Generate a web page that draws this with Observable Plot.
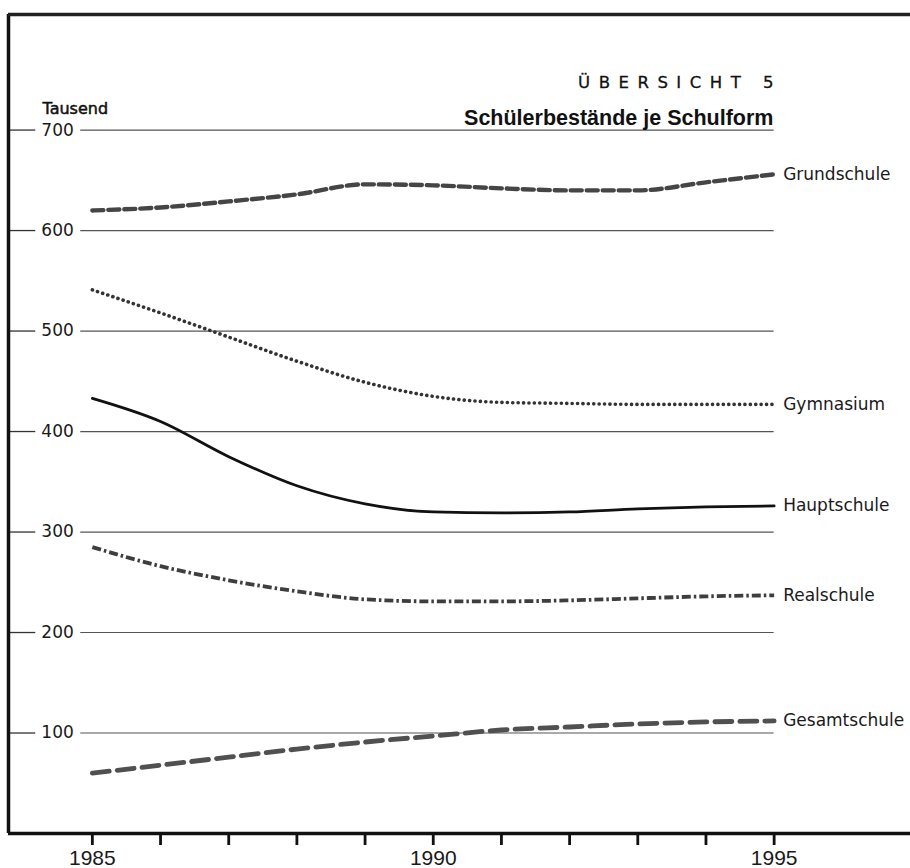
<!DOCTYPE html>
<html><head><meta charset="utf-8">
<script src="https://cdn.jsdelivr.net/npm/d3@7"></script>
<script src="https://cdn.jsdelivr.net/npm/@observablehq/plot@0.6"></script>
<style>
body{margin:0;background:#fff}
#chart svg{display:block;background:#fff}
</style>
</head><body><div id="chart"></div>
<script>
// ---- data ----
const years = [1985,1986,1987,1988,1989,1990,1991,1992,1993,1994,1995];
const grundschule  = [620,623,629,636,646,645,642,640,640,648,656];
const gymnasium    = [541,518,494,470,449,435,429,428,427,427,427];
const hauptschule  = [433,410,375,346,328,320,319,320,323,325,326];
const realschule   = [285,266,252,241,233,231,231,232,234,236,237];
const gesamtschule = [60,68,76,84,91,97,103,106,109,111,112];
const seriesNames  = ["Grundschule","Gymnasium","Hauptschule","Realschule","Gesamtschule"];
const yTicks  = [100,200,300,400,500,600,700];
const xLabels = [1985,1990,1995];
const kicker  = "ÜBERSICHT 5";
const title   = "Schülerbestände je Schulform";
const unit    = "Tausend";

// ---- table built from the arrays ----
const seriesValues = [grundschule, gymnasium, hauptschule, realschule, gesamtschule];
const rows = seriesNames.flatMap((name, i) => years.map((year, j) => ({school: name, year, value: seriesValues[i][j]})));
const lastRows = seriesNames.map((name, i) => ({school: name, year: years[years.length-1], value: seriesValues[i][years.length-1]}));

// ---- styles ----
const styles = {
  Grundschule:  {stroke: "#454545", strokeWidth: 4.4, strokeDasharray: "11 5", strokeLinecap: "round"},
  Gymnasium:    {stroke: "#333", strokeWidth: 3.6, strokeDasharray: "0.1 5.3", strokeLinecap: "round"},
  Hauptschule:  {stroke: "#111", strokeWidth: 2.8},
  Realschule:   {stroke: "#3e3e3e", strokeWidth: 3.8, strokeDasharray: "9 3 2.5 3", strokeLinecap: "butt"},
  Gesamtschule: {stroke: "#505050", strokeWidth: 4.8, strokeDasharray: "17 8", strokeLinecap: "round"}
};

const X0 = 1983.77, X1 = 1997.0, YMAX = 815;
const font = "'DejaVu Sans', Verdana, sans-serif";
const helv = "'Liberation Sans', Arial, Helvetica, sans-serif";

const lineMarks = seriesNames.map(name =>
  Plot.line(rows.filter(d => d.school === name), {x: "year", y: "value", curve: "monotone-x", ...styles[name]})
);

const chart = Plot.plot({
  width: 910,
  height: 868,
  marginLeft: 8, marginRight: 0, marginTop: 14, marginBottom: 35,
  style: {fontFamily: font, background: "#fff", color: "#111"},
  x: {domain: [X0, X1], axis: null},
  y: {domain: [0, YMAX], axis: null},
  marks: [
    // y tick stubs, labels and gridlines
    Plot.ruleY(yTicks, {x1: X0, x2: 1984.17, stroke: "#333", strokeWidth: 1.3}),
    Plot.text(yTicks, {x: 1984.49, y: d => d, text: d => String(d), fontSize: 17, fill: "#1a1a1a"}),
    Plot.ruleY(yTicks, {x1: 1984.83, x2: years[years.length-1], stroke: "#555", strokeWidth: 1.2}),
    ...lineMarks,
    Plot.text(lastRows, {x: "year", y: "value", text: "school", dx: 9, textAnchor: "start", fontSize: 17, fill: "#1a1a1a"}),
    // frame
    Plot.ruleX([X0], {y1: 0, y2: YMAX, stroke: "#111", strokeWidth: 3.5}),
    Plot.ruleY([YMAX], {x1: X0, x2: X1, stroke: "#222", strokeWidth: 3.5}),
    Plot.ruleY([0], {x1: X0, x2: X1, stroke: "#111", strokeWidth: 3.5}),
    // x axis
    Plot.axisX(years, {tickSize: 12, strokeWidth: 2.8, stroke: "#111", tickPadding: 5, fontSize: 21, fontFamily: helv, fill: "#1a1a1a",
      label: null, tickFormat: d => xLabels.includes(d) ? String(d) : ""}),
    // headings
    Plot.text([kicker], {frameAnchor: "top-right", dx: -128.5, dy: 68, lineAnchor: "middle", textAnchor: "end", fontSize: 16.5, fill: "#111", stroke: "#111", strokeWidth: 0.3}),
    Plot.text([title], {frameAnchor: "top-right", dx: -137, dy: 104, lineAnchor: "middle", textAnchor: "end", fontSize: 21.5, fontWeight: "bold", fontFamily: helv, fill: "#111"}),
    Plot.text([unit], {frameAnchor: "top-left", dx: 34, dy: 94, lineAnchor: "middle", textAnchor: "start", fontSize: 16, fill: "#111", stroke: "#111", strokeWidth: 0.5})
  ]
});

d3.select(chart).selectAll("text").filter(function(){ return this.textContent === kicker; }).attr("letter-spacing", "8.5");
document.getElementById("chart").appendChild(chart);
</script>
</body></html>
